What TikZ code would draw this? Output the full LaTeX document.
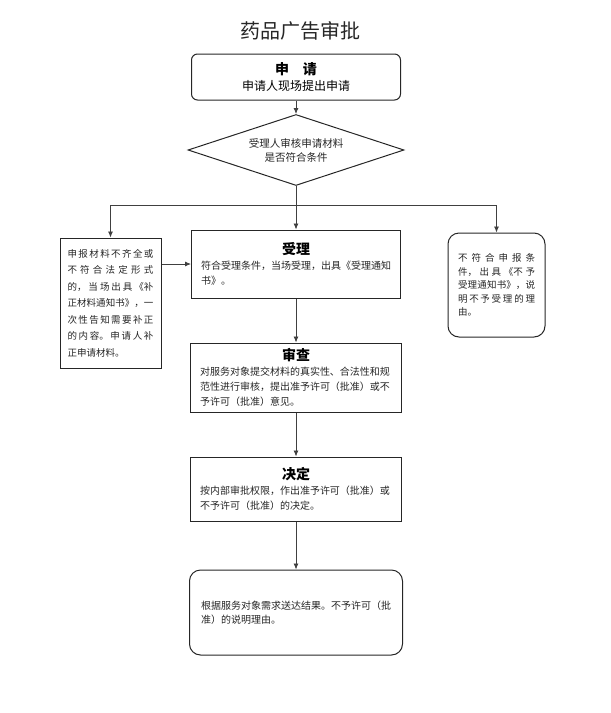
\documentclass[tikz,border=0pt]{standalone}
\usepackage{fontspec}
\setmainfont{Noto Sans CJK SC}
\XeTeXlinebreaklocale "zh"
\XeTeXlinebreakskip=0pt plus 4pt
\usetikzlibrary{shapes.geometric,arrows.meta}

\begin{document}
\begin{tikzpicture}[x=1pt, y=-1pt,
  >={Latex[length=6pt,width=5pt]},
  line/.style={draw=black!75, line width=0.8pt},
  box/.style={draw=black!85, line width=1pt, align=left, inner xsep=9.5pt,
    font=\fontsize{10}{15}\selectfont, text=black!85},
  rbox/.style={box, rounded corners=11pt}]
  \useasboundingbox (0,0) rectangle (611,713);

  \node[font=\fontsize{20}{24}\selectfont, text=black!85] (title) at (300,31) {药品广告审批};

  % 申请
  \node[box, rounded corners=6pt, align=center, minimum width=209pt, minimum height=46pt,
        font=\fontsize{12}{16}\selectfont, text=black] (apply) at (296,77)
        {{\fontsize{14}{16}\selectfont\bfseries 申\quad 请}\\申请人现场提出申请};

  % 是否符合条件
  \node[draw=black!85, line width=1pt, shape=diamond, aspect=3, inner sep=0pt,
        minimum width=216pt, minimum height=71pt, align=center,
        font=\fontsize{10.5}{14}\selectfont, text=black!85] (check) at (296,150)
        {受理人审核申请材料\\是否符合条件};
  \coordinate (split) at (296,205);

  % 三个分支（两侧文字两端对齐）
  \node[box, align=justify, inner xsep=7.5pt, text width=86pt, minimum height=130pt,
        font=\fontsize{9.5}{16.5}\selectfont] (fix) at (110.5,303)
        {申报材料不齐全或\linebreak 不符合法定形式\linebreak 的，当场出具《补\linebreak
         正材料通知书》，一\linebreak 次性告知需要补正\linebreak 的内容。申请人补\linebreak
         正申请材料。};
  \node[box, text width=190pt, minimum height=68pt] (accept) at (296,264)
        {{\centering\color{black}\fontsize{14}{18}\selectfont\bfseries 受理\par}%
         符合受理条件，当场受理，出具《受理通知\\书》。};
  \node[rbox, align=justify, inner xsep=10pt, text width=77pt, minimum height=104pt,
        font=\fontsize{9.5}{13.5}\selectfont] (refuse) at (496.5,285)
        {不符合申报条\linebreak 件，出具《不予\linebreak 受理通知书》，说\linebreak
         明不予受理的理\linebreak 由。};

  % 审查、决定、送达
  \node[box, text width=192pt, minimum height=69pt] (review) at (296,377.5)
        {{\centering\color{black}\fontsize{14}{18}\selectfont\bfseries 审查\par}%
         对服务对象提交材料的真实性、合法性和规\\范性进行审核，提出准予许可（批准）或不\\予许可（批准）意见。};
  \node[box, text width=192pt, minimum height=64pt] (decide) at (296,489)
        {{\centering\color{black}\fontsize{14}{18}\selectfont\bfseries 决定\par}%
         按内部审批权限，作出准予许可（批准）或\\不予许可（批准）的决定。};
  \node[rbox, inner xsep=11.5pt, text width=190pt, minimum height=85pt,
        font=\fontsize{10}{14}\selectfont] (result) at (296,612.5)
        {根据服务对象需求送达结果。不予许可（批\\准）的说明理由。};

  \draw[line, ->] (apply.south) -- (check.north);
  \draw[line] (check.south) -- (split);
  \draw[line, ->] (split) -- (accept.north);
  \draw[line, ->] (split) -| (fix.north);
  \draw[line, ->] (split) -| (refuse.north);
  \draw[line, ->] (fix.east |- accept.west) -- (accept.west);
  \draw[line, ->] (accept) -- (review);
  \draw[line, ->] (review) -- (decide);
  \draw[line, ->] (decide) -- (result);
\end{tikzpicture}
\end{document}
